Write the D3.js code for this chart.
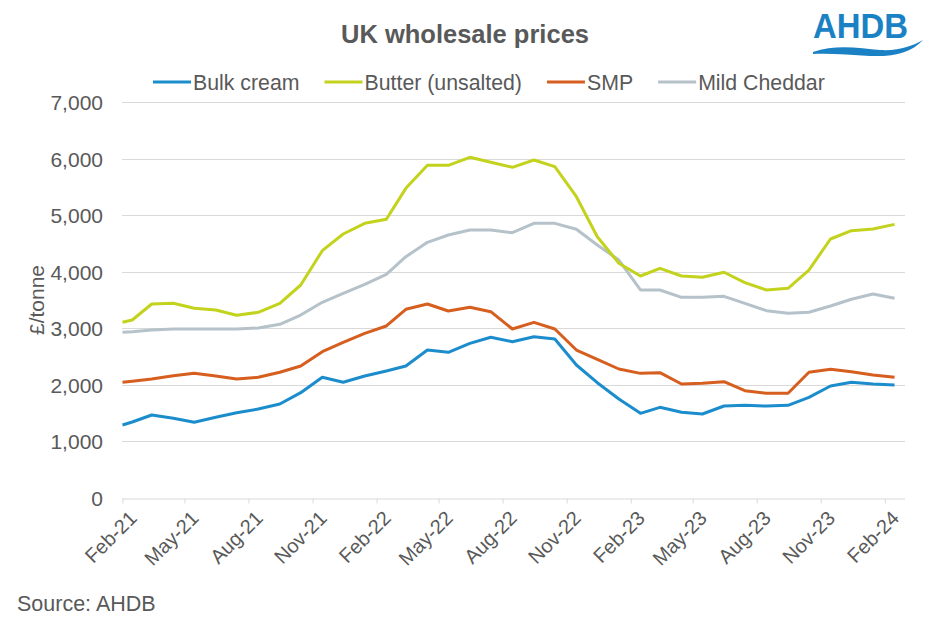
<!DOCTYPE html>
<html>
<head>
<meta charset="utf-8">
<script src="https://cdn.jsdelivr.net/npm/d3@7"></script>
<style>
  html, body { margin: 0; padding: 0; background: #fff; }
  svg { display: block; font-family: "Liberation Sans", Arial, sans-serif; }
</style>
</head>
<body>
<svg id="chart" width="940" height="629"></svg>
<script>
// ---- data ----
const dates = [
  "2021-02-01",
  "2021-02-15","2021-03-15","2021-04-15","2021-05-15","2021-06-15","2021-07-15","2021-08-15","2021-09-15","2021-10-15","2021-11-15","2021-12-15",
  "2022-01-15","2022-02-15","2022-03-15","2022-04-15","2022-05-15","2022-06-15","2022-07-15","2022-08-15","2022-09-15","2022-10-15","2022-11-15","2022-12-15",
  "2023-01-15","2023-02-15","2023-03-15","2023-04-15","2023-05-15","2023-06-15","2023-07-15","2023-08-15","2023-09-15","2023-10-15","2023-11-15","2023-12-15",
  "2024-01-15","2024-02-15"
];
const bulkCream = [1291,1345,1468,1410,1339,1427,1509,1574,1663,1863,2135,2047,2158,2247,2335,2618,2577,2736,2843,2765,2854,2813,2353,2040,1751,1498,1604,1516,1486,1627,1640,1627,1640,1781,1981,2047,2017,1999];
const butter = [3108,3149,3432,3444,3356,3326,3232,3285,3444,3768,4375,4670,4859,4930,5478,5885,5885,6027,5938,5850,5979,5861,5330,4622,4152,3927,4063,3927,3904,3993,3809,3680,3709,4033,4582,4729,4759,4841];
const smp = [2047,2065,2105,2164,2205,2158,2105,2135,2224,2335,2588,2754,2913,3043,3338,3432,3308,3373,3296,2990,3108,2990,2618,2453,2282,2205,2217,2017,2029,2058,1899,1852,1852,2224,2276,2235,2176,2135];
const mildCheddar = [2931,2940,2972,2990,2990,2990,2990,3007,3072,3237,3462,3621,3780,3957,4269,4523,4652,4741,4741,4693,4859,4859,4753,4475,4210,3680,3680,3550,3550,3568,3444,3314,3267,3285,3397,3515,3609,3532];
const seriesNames = ["Bulk cream","Butter (unsalted)","SMP","Mild Cheddar"];
const xTickLabels = ["Feb-21","May-21","Aug-21","Nov-21","Feb-22","May-22","Aug-22","Nov-22","Feb-23","May-23","Aug-23","Nov-23","Feb-24"];
const yTicks = [0,1000,2000,3000,4000,5000,6000,7000];

// ---- styling ----
const colors = ["#1b8dcc","#c3d21c","#d65e1e","#b5c2ca"];
const textColor = "#595959";
const gridColor = "#d9d9d9";

const svg = d3.select("#chart");
const parseDate = d3.timeParse("%Y-%m-%d");
const parseTick = d3.timeParse("%b-%y");
const xDates = dates.map(parseDate);

const x = d3.scaleTime()
  .domain([parseDate("2021-02-01"), parseDate("2024-03-01")])
  .range([122.5, 905]);
const y = d3.scaleLinear().domain([0, 7000]).range([498, 102.3]);

// gridlines
svg.append("g").selectAll("line").data(yTicks.filter(d => d > 0)).join("line")
  .attr("x1", 122).attr("x2", 905)
  .attr("y1", d => Math.round(y(d)) + 0.5).attr("y2", d => Math.round(y(d)) + 0.5)
  .attr("stroke", gridColor).attr("stroke-width", 1);

// y axis labels
const yAxis = d3.axisLeft(y).tickValues(yTicks).tickSize(0).tickPadding(0)
  .tickFormat(d3.format(","));
const gy = svg.append("g").attr("transform", "translate(103,0)").call(yAxis);
gy.select(".domain").remove();
gy.selectAll("text").attr("font-size", 21).attr("fill", textColor)
  .attr("font-family", '"Liberation Sans", Arial, sans-serif').attr("dy", "0.35em");

// x axis
const tickDates = xTickLabels.map(parseTick);
const xAxis = d3.axisBottom(x).tickValues(tickDates).tickSize(5).tickFormat(d3.timeFormat("%b-%y"));
const gx = svg.append("g").attr("transform", "translate(0,498.5)").call(xAxis);
gx.select(".domain").attr("d", "M122,0.5H905").attr("stroke", gridColor);
gx.selectAll(".tick line").attr("stroke", gridColor);
gx.selectAll(".tick text")
  .attr("font-size", 20).attr("fill", textColor)
  .attr("font-family", '"Liberation Sans", Arial, sans-serif')
  .attr("text-anchor", "end")
  .attr("y", 0).attr("dy", 0)
  .attr("transform", "translate(15,21) rotate(-45)");

// lines
const allSeries = [bulkCream, butter, smp, mildCheddar];
const line = d3.line().x((d, i) => x(xDates[i])).y(d => y(d));
const drawOrder = [3, 2, 0, 1];
svg.append("g").selectAll("path").data(drawOrder).join("path")
  .attr("d", k => line(allSeries[k]))
  .attr("fill", "none")
  .attr("stroke", k => colors[k])
  .attr("stroke-width", 3)
  .attr("stroke-linejoin", "round");

// title
svg.append("text").attr("x", 465).attr("y", 43).attr("text-anchor", "middle")
  .attr("font-size", 25.5).attr("font-weight", "bold").attr("fill", textColor)
  .text("UK wholesale prices");

// legend
let lx = 153;
const legend = svg.append("g");
seriesNames.forEach((name, i) => {
  legend.append("line").attr("x1", lx).attr("x2", lx + 38).attr("y1", 82).attr("y2", 82)
    .attr("stroke", colors[i]).attr("stroke-width", 3);
  const t = legend.append("text").attr("x", lx + 40).attr("y", 89.5)
    .attr("font-size", 21.3).attr("fill", textColor).text(name);
  lx = lx + 40 + t.node().getComputedTextLength() + 25;
});

// y axis title
svg.append("text").attr("transform", "translate(44,300) rotate(-90)")
  .attr("text-anchor", "middle").attr("font-size", 21).attr("fill", textColor)
  .text("£/tonne");

// source
svg.append("text").attr("x", 17).attr("y", 611).attr("font-size", 21.5).attr("fill", textColor)
  .text("Source: AHDB");

// logo
const logo = svg.append("g");
logo.append("text").attr("x", 813).attr("y", 38).attr("font-size", 35)
  .attr("font-weight", "bold").attr("fill", "#1a82c4")
  .attr("textLength", 95).attr("lengthAdjust", "spacingAndGlyphs")
  .text("AHDB");
logo.append("path")
  .attr("d", "M813,52 C835,44 860,48 880,50 C900,51 912,46 923,40 C912,52 895,57 870,56 C850,55 830,53 813,54 Z")
  .attr("fill", "#1a82c4");
</script>
</body>
</html>
